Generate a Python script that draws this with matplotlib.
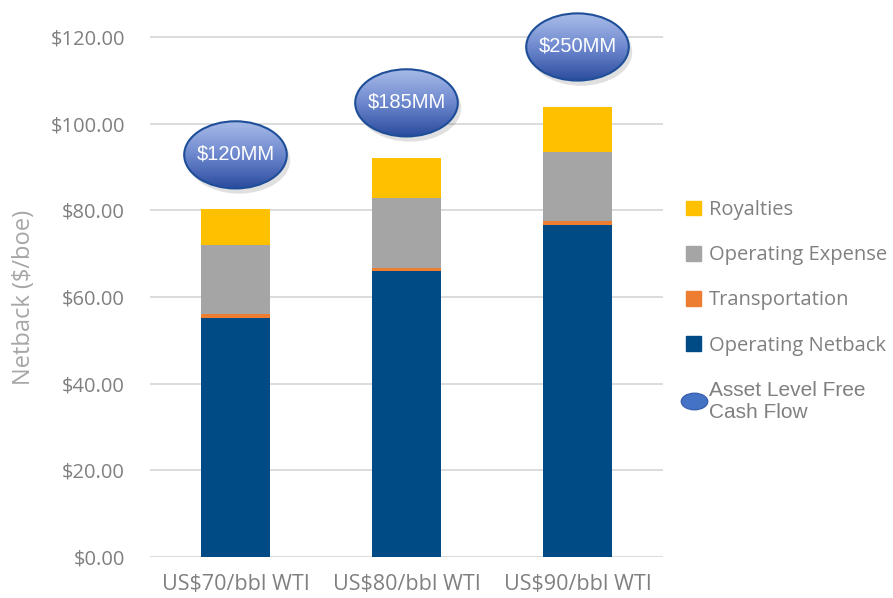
import matplotlib; matplotlib.use('agg')
import matplotlib.pyplot as plt
import numpy as np
from matplotlib.patches import Ellipse, Patch
from matplotlib.lines import Line2D
from matplotlib.path import Path
from matplotlib.colors import LinearSegmentedColormap

plt.rcParams['font.family'] = ['Open Sans', 'DejaVu Sans']

# Data
categories = ['US$70/bbl WTI', 'US$80/bbl WTI', 'US$90/bbl WTI']
netback = [55.2, 66.0, 76.7]
transport = [0.8, 0.8, 0.8]
opex = [16.1, 16.0, 15.9]
royalties = [8.1, 9.3, 10.5]
fcf_labels = ['$120MM', '$185MM', '$250MM']
fcf_y = [92.8, 104.8, 117.7]

colors = {'Royalties': '#ffc000', 'Operating Expense': '#a5a5a5',
          'Transportation': '#ed7d31', 'Operating Netback': '#004a86'}
text_gray = '#808080'

fig = plt.figure(figsize=(8.93, 5.98), dpi=100)
# y: 0 -> 557px, 120 -> 37px; ylim extended to 126 so the top ellipse isn't clipped
ax = fig.add_axes([150/893, 41/598, 513/893, 546/598])

x = np.arange(len(categories))
w = 0.4
b1 = np.array(netback)
b2 = b1 + np.array(transport)
b3 = b2 + np.array(opex)
ax.bar(x, netback, w, color=colors['Operating Netback'], zorder=3)
ax.bar(x, transport, w, bottom=b1, color=colors['Transportation'], zorder=3)
ax.bar(x, opex, w, bottom=b2, color=colors['Operating Expense'], zorder=3)
ax.bar(x, royalties, w, bottom=b3, color=colors['Royalties'], zorder=3)

ax.set_yticks(np.arange(0, 121, 20))
ax.set_yticklabels(['${:.2f}'.format(v) for v in np.arange(0, 121, 20)])
ax.set_xticks(x)
ax.set_xticklabels(categories)
ax.tick_params(length=0, colors=text_gray)
ax.tick_params(axis='y', labelsize=14.5, pad=18)
ax.tick_params(axis='x', labelsize=15.5, pad=12)
for s in ax.spines.values():
    s.set_visible(False)
for v in np.arange(0, 121, 20):
    ax.axhline(v, color='#d9d9d9', lw=1.3, zorder=1)
ax.set_ylabel('Netback ($/boe)', fontsize=17, color='#a6a6a6')
ax.yaxis.set_label_coords(-0.222, 0.476)

# gradient ellipses for free cash flow
cmap = LinearSegmentedColormap.from_list('fcf', ['#aabde9', '#6f89cf', '#2b4c9e'])
ew, eh = 0.6, 15.5
grad = np.linspace(0, 1, 200).reshape(-1, 1)
for xi, yi, lab in zip(x, fcf_y, fcf_labels):
    sh = Ellipse((xi + 0.02, yi - 1.2), ew, eh, facecolor='#000000', alpha=0.12,
                 edgecolor='none', zorder=4)
    ax.add_patch(sh)
    ell = Ellipse((xi, yi), ew, eh, facecolor='none', edgecolor='#1f4e99',
                  lw=1.5, zorder=6)
    ax.add_patch(ell)
    im = ax.imshow(grad, cmap=cmap, aspect='auto', zorder=5,
                   extent=[xi - ew/2, xi + ew/2, yi - eh/2, yi + eh/2])
    im.set_clip_path(ell)
    ax.text(xi, yi + 0.3, lab, ha='center', va='center', color='white',
            fontsize=14.5, family=['Liberation Sans', 'DejaVu Sans'], zorder=7)
ax.set_xlim(-0.5, 2.5)
ax.set_ylim(0, 126)

# legend
circ = Path.unit_circle()
ell_marker = Path(circ.vertices * np.array([1.6, 1.0]), circ.codes)
handles = [Patch(color=colors['Royalties']),
           Patch(color=colors['Operating Expense']),
           Patch(color=colors['Transportation']),
           Patch(color=colors['Operating Netback']),
           Line2D([], [], ls='none', marker=ell_marker, markersize=19,
                  markerfacecolor='#4472c4', markeredgecolor='#3a62b0')]
labels = ['Royalties', 'Operating Expense', 'Transportation',
          'Operating Netback', 'Asset Level Free\nCash Flow']
leg = fig.legend(handles, labels, loc='upper left', bbox_to_anchor=(686/893, 1-200/598),
                 frameon=False, fontsize=14.5, labelspacing=1.25, handlelength=0.75,
                 handleheight=0.75, handletextpad=0.4, borderaxespad=0, borderpad=0)
for t in leg.get_texts():
    t.set_color(text_gray)
last = leg.get_texts()[4]
last.set_family(['Liberation Sans', 'DejaVu Sans'])
last.set_fontsize(15)
last.set_linespacing(1.2)

fig.savefig('out.png', dpi=100)
